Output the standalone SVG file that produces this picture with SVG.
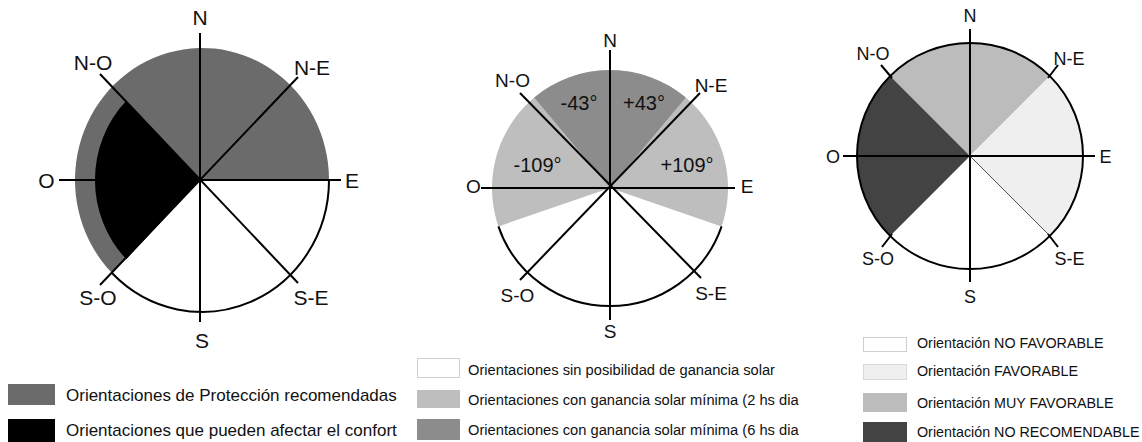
<svg xmlns="http://www.w3.org/2000/svg" width="1142" height="442" viewBox="0 0 1142 442">
<style>
.ln{stroke:#000;stroke-width:2;fill:none;stroke-linecap:butt}
.thin{stroke:#555;stroke-width:1;fill:none}
.lbl{font-family:"Liberation Sans",Arial,sans-serif;fill:#111;text-anchor:middle}
.leg{font-family:"Liberation Sans",Arial,sans-serif;fill:#111}
.g1{fill:#6b6b6b}
.blk{fill:#000}
.g2d{fill:#8c8c8c}
.g2l{fill:#bebebe}
.g3l{fill:#bcbcbc}
.g3v{fill:#efefef}
.g3d{fill:#434343}
.wbox{fill:#fff;stroke:#cfcfcf;stroke-width:1}
.vbox{fill:#efefef;stroke:#d8d8d8;stroke-width:1}
</style>
<rect width="1142" height="442" fill="#fff"/>

<!-- Diagram 1 -->
<g id="compass1">
  <path class="g1" d="M200 180 L112.2 273.3 A127 132 0 1 1 329 180 Z"/>
  <path class="blk" d="M200 180 L126.3 259.2 A107 112 0 0 1 126.3 100.8 Z"/>
  <path class="ln" d="M329 180 A127 132 0 0 1 112.2 273.3"/>
  <g id="axes1">
    <line class="ln" x1="200" y1="33" x2="200" y2="322"/>
    <line class="ln" x1="59" y1="180" x2="341" y2="180"/>
    <line class="ln" x1="100" y1="74" x2="298" y2="283"/>
    <line class="ln" x1="298" y1="77" x2="100" y2="285"/>
  </g>
  <g font-size="21" class="lbl">
    <text x="200" y="25">N</text>
    <text x="93" y="70">N-O</text>
    <text x="312" y="75">N-E</text>
    <text x="46.5" y="188">O</text>
    <text x="352" y="188">E</text>
    <text x="98" y="305">S-O</text>
    <text x="311" y="305">S-E</text>
    <text x="202" y="348">S</text>
  </g>
</g>

<!-- Diagram 2 -->
<g id="compass2">
  <path class="g2l" d="M610 188 L498.4 226.4 A118 118 0 1 1 721.6 226.4 Z"/>
  <path class="g2d" d="M610 188 L534.2 97.6 A118 118 0 0 1 685.8 97.6 Z"/>
  <path class="ln" d="M721.6 226.4 A118 118 0 0 1 498.4 226.4"/>
  <g id="axes2">
    <line class="ln" x1="610" y1="50" x2="610" y2="320"/>
    <line class="ln" x1="481" y1="188" x2="735" y2="188"/>
    <line class="ln" x1="520" y1="93" x2="701" y2="278"/>
    <line class="ln" x1="700" y1="93" x2="520" y2="280"/>
  </g>
  <g font-size="19" class="lbl">
    <text x="610" y="47">N</text>
    <text x="512.5" y="87">N-O</text>
    <text x="711" y="92">N-E</text>
    <text x="473.5" y="193">O</text>
    <text x="747" y="193">E</text>
    <text x="517.5" y="302">S-O</text>
    <text x="711" y="300">S-E</text>
    <text x="610" y="338">S</text>
  </g>
  <g font-size="20" class="lbl">
    <text x="579" y="110">-43°</text>
    <text x="644" y="110">+43°</text>
    <text x="537.5" y="172">-109°</text>
    <text x="687" y="172">+109°</text>
  </g>
</g>

<!-- Diagram 3 -->
<g id="compass3">
  <path class="g3l" d="M970 156 L890.1 76.1 A113 113 0 0 1 1049.9 76.1 Z"/>
  <path class="g3v" d="M970 156 L1049.9 76.1 A113 113 0 0 1 1049.9 235.9 Z"/>
  <path fill="#fff" d="M970 156 L1049.9 235.9 A113 113 0 0 1 890.1 235.9 Z"/>
  <path class="g3d" d="M970 156 L890.1 235.9 A113 113 0 0 1 890.1 76.1 Z"/>
  <circle class="ln" cx="970" cy="156" r="113"/>
  <g id="axes3">
    <line class="thin" x1="970" y1="156" x2="1049.9" y2="235.9"/>
    <line class="ln" x1="970" y1="29" x2="970" y2="282"/>
    <line class="ln" x1="843" y1="156" x2="1095" y2="156"/>
    <line class="ln" x1="881" y1="65" x2="892" y2="78"/>
    <line class="ln" x1="1058" y1="65" x2="1048" y2="78"/>
    <line class="ln" x1="1058" y1="247" x2="1048" y2="234"/>
    <line class="ln" x1="882" y1="247" x2="892" y2="234"/>
  </g>
  <g font-size="18" class="lbl">
    <text x="970" y="22">N</text>
    <text x="873" y="60">N-O</text>
    <text x="1069" y="65">N-E</text>
    <text x="833" y="163">O</text>
    <text x="1105.5" y="163">E</text>
    <text x="878" y="265">S-O</text>
    <text x="1069.5" y="265">S-E</text>
    <text x="970" y="303">S</text>
  </g>
</g>

<!-- Legend 1 -->
<g id="legend1">
  <rect class="g1" x="8" y="384" width="47" height="21"/>
  <text class="leg" x="66" y="401" font-size="17">Orientaciones de Protección recomendadas</text>
  <rect class="blk" x="8" y="419" width="47" height="23"/>
  <text class="leg" x="66" y="436" font-size="17">Orientaciones que pueden afectar el confort</text>
</g>

<!-- Legend 2 -->
<g id="legend2">
  <rect class="wbox" x="417.5" y="358.5" width="42" height="19"/>
  <text class="leg" x="468" y="375" font-size="14.7">Orientaciones sin posibilidad de ganancia solar</text>
  <rect class="g2l" x="417" y="390" width="43" height="18"/>
  <text class="leg" x="468" y="405" font-size="14.7">Orientaciones con ganancia solar mínima (2 hs dia</text>
  <rect class="g2d" x="417" y="419" width="43" height="21"/>
  <text class="leg" x="468" y="435" font-size="14.7">Orientaciones con ganancia solar mínima (6 hs dia</text>
</g>

<!-- Legend 3 -->
<g id="legend3">
  <rect class="wbox" x="863.5" y="337.5" width="43" height="14"/>
  <text class="leg" x="917" y="348" font-size="14.3">Orientación NO FAVORABLE</text>
  <rect class="vbox" x="863.5" y="364.5" width="43" height="15"/>
  <text class="leg" x="917" y="376" font-size="14.3">Orientación FAVORABLE</text>
  <rect class="g3l" x="863" y="393" width="44" height="19"/>
  <text class="leg" x="917" y="408" font-size="14.3">Orientación MUY FAVORABLE</text>
  <rect class="g3d" x="863" y="422" width="44" height="20"/>
  <text class="leg" x="917" y="437" font-size="14.3">Orientación NO RECOMENDABLE</text>
</g>
</svg>
